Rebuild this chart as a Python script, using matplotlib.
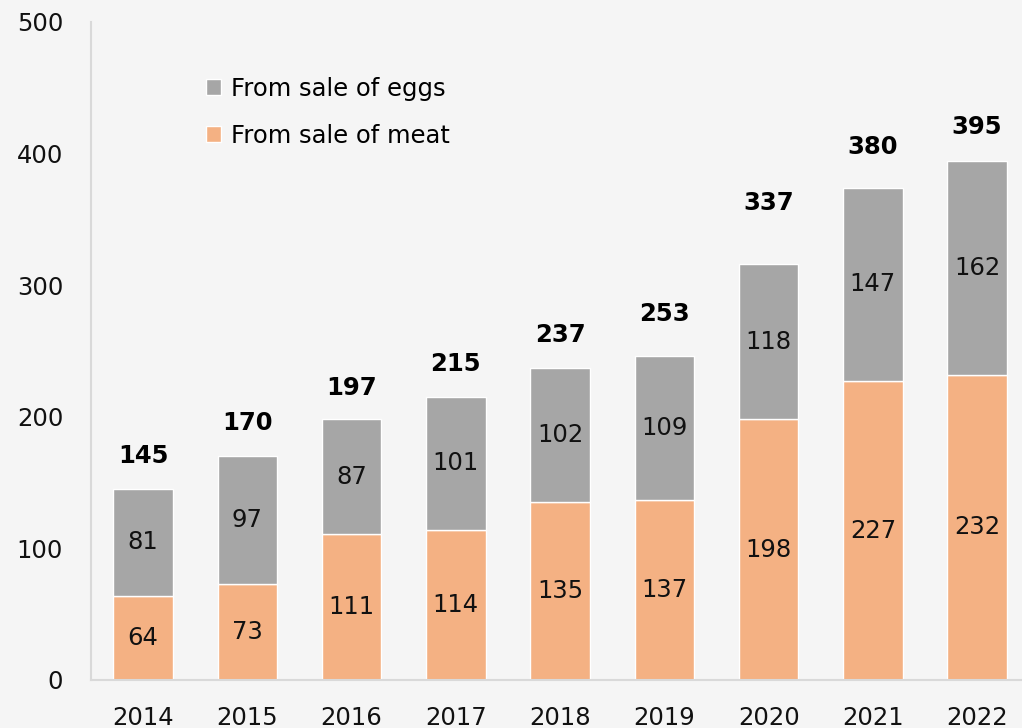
import numpy as np
import matplotlib.pyplot as plt

plt.rcParams['font.family'] = ['DejaVu Sans']

years = ['2014', '2015', '2016', '2017', '2018', '2019', '2020', '2021', '2022']
meat = [64, 73, 111, 114, 135, 137, 198, 227, 232]
eggs = [81, 97, 87, 101, 102, 109, 118, 147, 162]
totals = [145, 170, 197, 215, 237, 253, 337, 380, 395]

bg = '#f5f5f5'
fs = 17.5
fig = plt.figure(figsize=(10.22, 7.28), dpi=100, facecolor=bg)
ax = fig.add_axes([0.089, 0.066, 0.911, 0.904], facecolor=bg)

x = np.arange(len(years))
b1 = ax.bar(x, meat, width=0.57, color='#f4b183', edgecolor='white', linewidth=1, label='From sale of meat')
b2 = ax.bar(x, eggs, width=0.57, bottom=meat, color='#a6a6a6', edgecolor='white', linewidth=1, label='From sale of eggs')

for i in range(len(years)):
    ax.text(x[i], meat[i] / 2, str(meat[i]), ha='center', va='center', fontsize=fs, color='#111111')
    ax.text(x[i], meat[i] + eggs[i] / 2, str(eggs[i]), ha='center', va='center', fontsize=fs, color='#111111')
    ax.text(x[i], totals[i] + 25, str(totals[i]), ha='center', va='center', fontsize=fs, fontweight='bold', color='black')

ax.set_xlim(-0.5, 8.43)
ax.set_ylim(0, 500)
ax.set_yticks([0, 100, 200, 300, 400, 500])
ax.set_xticks(x)
ax.set_xticklabels(years)
ax.tick_params(axis='both', length=0, labelsize=fs, colors='#111111')
ax.tick_params(axis='y', pad=20)
ax.tick_params(axis='x', pad=19)

for s in ['top', 'right']:
    ax.spines[s].set_visible(False)
for s in ['left', 'bottom']:
    ax.spines[s].set_color('#d9d9d9')
    ax.spines[s].set_linewidth(1.5)

ax.legend(handles=[b2, b1], loc='upper left', bbox_to_anchor=(0.1, 0.95), frameon=False,
          fontsize=fs, handlelength=0.6, handleheight=0.6, handletextpad=0.45, labelspacing=0.95)

fig.savefig('out.png', dpi=100, facecolor=bg)
